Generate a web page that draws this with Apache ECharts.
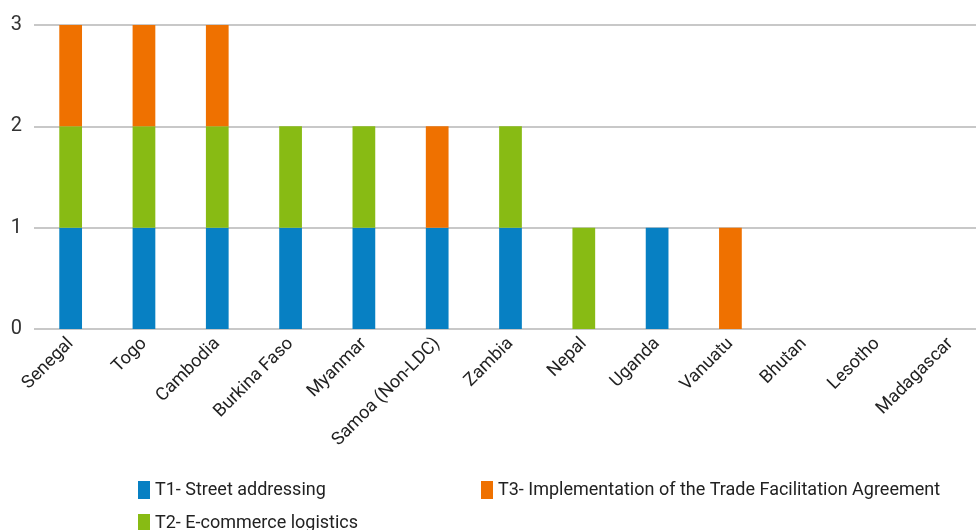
<!DOCTYPE html>
<html>
<head>
<meta charset="utf-8">
<script src="https://cdn.jsdelivr.net/npm/echarts@6/dist/echarts.min.js"></script>
<style>html,body{margin:0;padding:0;background:#fff;overflow:hidden}#c{width:987px;height:530px}</style>
</head>
<body>
<div id="c"></div>
<script>
const categories = ["Senegal","Togo","Cambodia","Burkina Faso","Myanmar","Samoa (Non-LDC)","Zambia","Nepal","Uganda","Vanuatu","Bhutan","Lesotho","Madagascar"];
const t1 = [1,1,1,1,1,1,1,0,1,0,0,0,0];
const t2 = [1,1,1,1,1,0,1,1,0,0,0,0,0];
const t3 = [1,1,1,0,0,1,0,0,0,1,0,0,0];
const seriesNames = ["T1- Street addressing","T2- E-commerce logistics","T3- Implementation of the Trade Facilitation Agreement"];
const colors = ["#0780c3","#88bb14","#ef7100"];
const yTicks = [0,1,2,3];

const FONT = 'Roboto,"Liberation Sans",sans-serif';
const chart = echarts.init(document.getElementById('c'), null, {renderer:'canvas'});
const mk = (name, data, color) => ({
  name, type:'bar', stack:'s', data, barWidth:'31%',
  itemStyle:{color}, emphasis:{disabled:true}
});
const lg = (name, left, top) => ({
  data:[name], left, top, itemWidth:12, itemHeight:18, icon:'rect', itemGap:0,
  textStyle:{fontSize:18, color:'#222', fontFamily:FONT, padding:[0,0,0,0]}
});
chart.setOption({
  animation:false,
  textStyle:{fontFamily:FONT},
  grid:{left:34, right:0, top:25, bottom:201, containLabel:false},
  legend:[ lg(seriesNames[0], 133, 476), lg(seriesNames[2], 476, 476), lg(seriesNames[1], 133, 509) ],
  xAxis:{type:'category', data:categories,
    axisLine:{show:false}, axisTick:{show:false},
    axisLabel:{rotate:45, fontSize:18, color:'#222', margin:12, interval:0, fontFamily:FONT}},
  yAxis:{type:'value', min:yTicks[0], max:yTicks[yTicks.length-1], interval:1,
    axisLine:{show:false}, axisTick:{show:false},
    axisLabel:{fontSize:20, color:'#333', margin:12, fontFamily:FONT},
    splitLine:{lineStyle:{color:'#c8c8c8', width:2}}},
  series:[mk(seriesNames[0], t1, colors[0]), mk(seriesNames[1], t2, colors[1]), mk(seriesNames[2], t3, colors[2])]
});
</script>
</body>
</html>
